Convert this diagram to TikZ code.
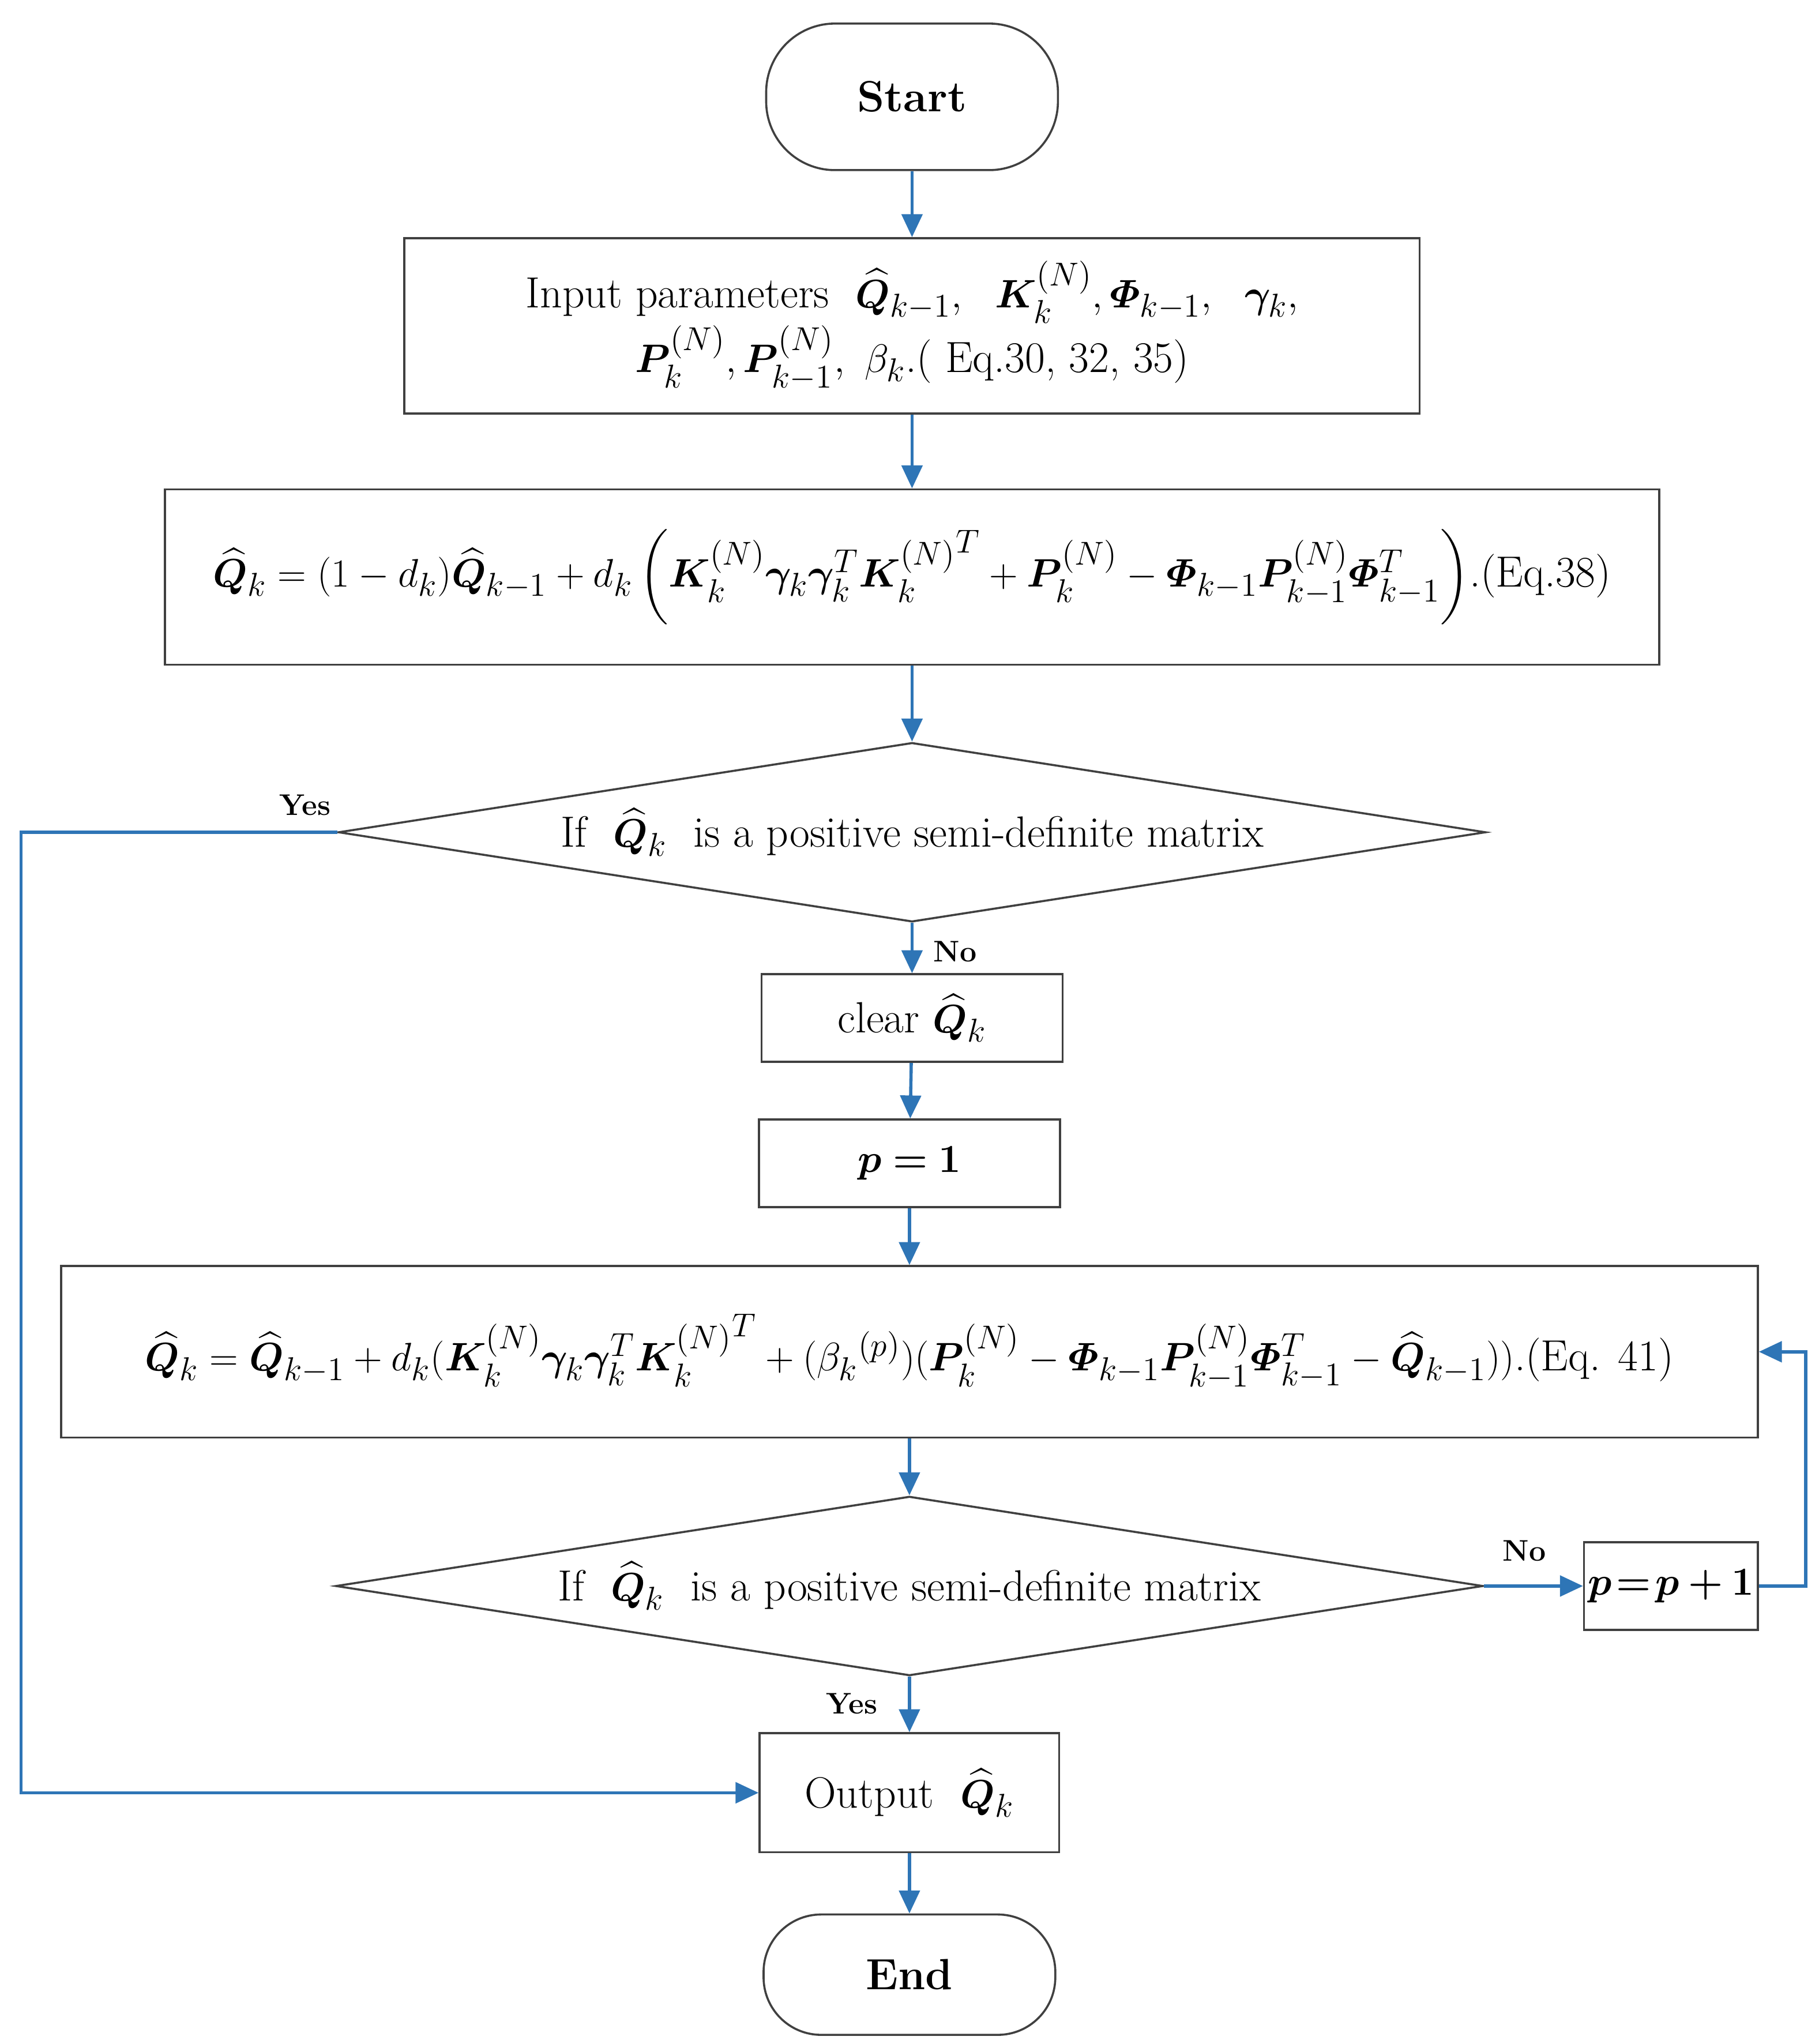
\documentclass[tikz,border=0pt]{standalone}
\usepackage{amsmath,bm}
\usetikzlibrary{shapes.geometric,arrows.meta}
\definecolor{ablue}{RGB}{46,117,182}
\newcommand{\Phib}{\bm{\varPhi}}
\begin{document}
\begin{tikzpicture}[x=0.02cm,y=-0.02cm,
 box/.style={draw=black!75,line width=0.9pt,rectangle,inner sep=0pt,align=center,font=\fontsize{19}{25}\selectfont},
 term/.style={box,font=\fontsize{19}{22}\selectfont\bfseries},
 dia/.style={draw=black!75,line width=0.9pt,diamond,aspect=6.4,inner sep=0pt,minimum width=17.54cm,minimum height=2.74cm,font=\fontsize{19}{22}\selectfont},
 arr/.style={draw=ablue,line width=1.4pt,-{Triangle[length=10pt,width=9pt]}},
 lab/.style={font=\fontsize{13}{15}\selectfont\bfseries}]
\useasboundingbox (0,0) rectangle (1390,1562);
\node[term,rounded corners=1.05cm,minimum width=4.46cm,minimum height=2.24cm] (start) at (697,74) {Start};
\node[box,minimum width=15.52cm,minimum height=2.68cm] (input) at (697,249)
 {Input parameters\ \ $\widehat{\bm Q}_{k-1},\ \ \bm K_k^{(N)},\Phib_{k-1},\ \ \bm\gamma_k,$\\
 $\bm P_k^{(N)},\bm P_{k-1}^{(N)},\ \beta_k$.( Eq.30, 32, 35)};
\node[box,minimum width=22.84cm,minimum height=2.68cm] (eq38) at (697,441)
 {$\widehat{\bm Q}_k=(1-d_k)\widehat{\bm Q}_{k-1}+d_k\left(\bm K_k^{(N)}\bm\gamma_k\bm\gamma_k^T{\bm K_k^{(N)}}^T+\bm P_k^{(N)}-\Phib_{k-1}\bm P_{k-1}^{(N)}\Phib_{k-1}^T\right)$.(Eq.38)};
\node[dia] (d1) at (697,636) {If\ \ $\widehat{\bm Q}_k$\ \ is a positive semi-definite matrix};
\node[box,minimum width=4.6cm,minimum height=1.34cm] (clear) at (697,778) {clear $\widehat{\bm Q}_k$};
\node[box,minimum width=4.6cm,minimum height=1.34cm] (p1) at (695,889) {$\bm{p=1}$};
\node[box,minimum width=25.94cm,minimum height=2.62cm] (eq41) at (695,1033)
 {$\widehat{\bm Q}_k=\widehat{\bm Q}_{k-1}+d_k(\bm K_k^{(N)}\bm\gamma_k\bm\gamma_k^T{\bm K_k^{(N)}}^T+({\beta_k}^{(p)})(\bm P_k^{(N)}-\Phib_{k-1}\bm P_{k-1}^{(N)}\Phib_{k-1}^T-\widehat{\bm Q}_{k-1}))$.(Eq. 41)};
\node[dia] (d2) at (695,1212) {If\ \ $\widehat{\bm Q}_k$\ \ is a positive semi-definite matrix};
\node[box,minimum width=2.66cm,minimum height=1.34cm,font=\fontsize{16}{20}\selectfont] (pp) at (1277,1212) {$\bm{p\!=\!p+1}$};
\node[box,minimum width=4.58cm,minimum height=1.82cm] (out) at (695,1370) {Output\ \ $\widehat{\bm Q}_k$};
\node[term,rounded corners=0.88cm,minimum width=4.46cm,minimum height=1.84cm] (end) at (695,1509) {End};
\coordinate (c1) at (16,636); \coordinate (c2) at (16,1370);
\coordinate (c3) at (1380,1212); \coordinate (c4) at (1380,1033);
\draw[arr] (start) -- (input);
\draw[arr] (input) -- (eq38);
\draw[arr] (eq38) -- (d1);
\draw[arr] (d1) -- (clear);
\draw[arr] (clear) -- (p1);
\draw[arr] (p1) -- (eq41);
\draw[arr] (eq41) -- (d2);
\draw[arr] (d2) -- (out);
\draw[arr] (out) -- (end);
\draw[arr] (d2.east) -- (pp.west);
\draw[arr] (pp.east) -- (c3) -- (c4) -- (eq41.east);
\draw[arr] (d1.west) -- (c1) -- (c2) -- (out.west);
\node[lab] at (233,615) {Yes};
\node[lab] at (730,727) {No};
\node[lab] at (1165,1185) {No};
\node[lab] at (651,1302) {Yes};
\end{tikzpicture}
\end{document}
